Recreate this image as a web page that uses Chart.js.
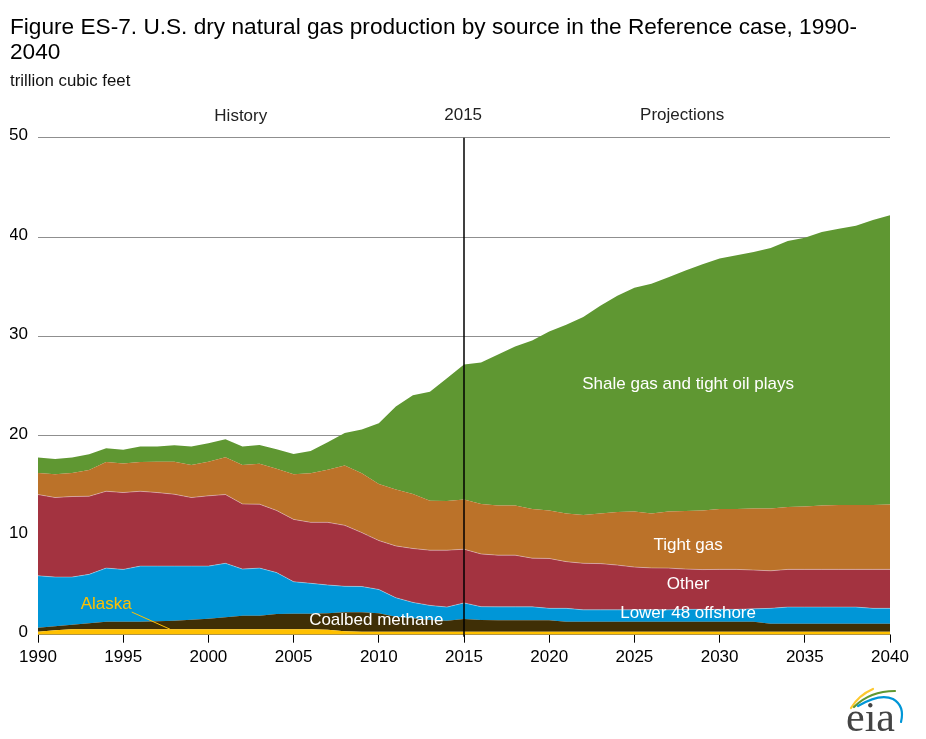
<!DOCTYPE html>
<html>
<head>
<meta charset="utf-8">
<title>Dry natural gas production</title>
<script src="https://cdn.jsdelivr.net/npm/chart.js@4/dist/chart.umd.min.js"></script>
<style>
    html, body { margin: 0; padding: 0; background: #fff; }
    canvas { display: block; }
</style>
</head>
<body>
<canvas id="chart" width="926" height="739"></canvas>
<script>
const years = [];
for (let y = 1990; y <= 2040; y++) years.push(y);

// trillion cubic feet, one value per year
const alaska = [0.3, 0.45, 0.55, 0.55, 0.55, 0.55, 0.55, 0.55, 0.55, 0.55,
    0.55, 0.55, 0.55, 0.55, 0.55, 0.55, 0.55, 0.5, 0.35, 0.3,
    0.3, 0.3, 0.3, 0.3, 0.3, 0.3, 0.3, 0.3, 0.3, 0.3,
    0.3, 0.3, 0.3, 0.3, 0.3, 0.3, 0.3, 0.3, 0.3, 0.3,
    0.3, 0.3, 0.3, 0.3, 0.3, 0.3, 0.3, 0.3, 0.3, 0.3, 0.3];
const coalbed = [0.4, 0.4, 0.45, 0.6, 0.75, 0.75, 0.75, 0.8, 0.85, 0.95,
    1.05, 1.2, 1.35, 1.35, 1.52, 1.55, 1.55, 1.65, 1.9, 1.95,
    1.85, 1.5, 1.35, 1.17, 1.1, 1.27, 1.17, 1.15, 1.15, 1.15,
    1.15, 1.0, 1.0, 1.0, 1.0, 1.0, 1.0, 1.0, 1.0, 1.0,
    1.0, 1.0, 1.0, 0.8, 0.8, 0.8, 0.8, 0.8, 0.8, 0.8, 0.8];
const offshore = [5.23, 4.95, 4.8, 4.92, 5.4, 5.27, 5.6, 5.55, 5.5, 5.4,
    5.3, 5.43, 4.7, 4.8, 4.18, 3.23, 3.07, 2.85, 2.62, 2.6,
    2.4, 1.92, 1.6, 1.48, 1.38, 1.63, 1.35, 1.35, 1.35, 1.35,
    1.2, 1.35, 1.2, 1.2, 1.2, 1.2, 1.2, 1.2, 1.25, 1.25,
    1.25, 1.25, 1.3, 1.55, 1.68, 1.68, 1.68, 1.68, 1.68, 1.55, 1.55];
const other = [8.17, 8.0, 8.1, 7.86, 7.73, 7.73, 7.53, 7.4, 7.23, 6.9,
    7.07, 6.92, 6.55, 6.43, 6.25, 6.27, 6.13, 6.3, 6.13, 5.42,
    4.92, 5.21, 5.42, 5.55, 5.72, 5.4, 5.3, 5.2, 5.2, 4.9,
    5.02, 4.7, 4.68, 4.65, 4.5, 4.3, 4.22, 4.2, 4.05, 4.0,
    4.02, 4.02, 3.9, 3.78, 3.79, 3.79, 3.79, 3.79, 3.79, 3.92, 3.92];
const tightGas = [2.17, 2.33, 2.37, 2.64, 2.94, 2.93, 2.94, 3.1, 3.27, 3.27,
    3.43, 3.75, 3.92, 4.07, 4.2, 4.53, 4.93, 5.3, 6.03, 5.96,
    5.68, 5.67, 5.48, 4.97, 4.95, 5.0, 5.03, 5.0, 5.0, 4.95,
    4.83, 4.85, 4.87, 5.05, 5.35, 5.6, 5.48, 5.7, 5.85, 5.95,
    6.08, 6.08, 6.2, 6.27, 6.28, 6.33, 6.43, 6.48, 6.48, 6.48, 6.53];
const shale = [1.55, 1.55, 1.55, 1.58, 1.38, 1.37, 1.56, 1.53, 1.65, 1.86,
    1.85, 1.82, 1.86, 1.88, 1.95, 2.05, 2.25, 2.75, 3.27, 4.42,
    6.12, 8.35, 9.95, 10.96, 12.35, 13.58, 14.23, 15.2, 15.98, 16.95,
    18.0, 18.97, 19.9, 20.9, 21.75, 22.5, 23.1, 23.57, 24.18, 24.77,
    25.2, 25.53, 25.8, 26.2, 26.75, 27.03, 27.5, 27.78, 28.08, 28.68, 29.1];

const textFont = '"Liberation Sans", Arial, sans-serif';

function makeSeries(label, values, color, fill, edge) {
    return {
        label: label,
        data: values.map((v, i) => ({x: years[i], y: v})),
        backgroundColor: color,
        borderColor: edge || color,
        borderWidth: edge ? 1 : 0,
        pointRadius: 0,
        tension: 0,
        fill: fill
    };
}

// labels on the chart, placed in axis units
const chartLabels = [
    {text: 'History', x: 2001.9, y: 52.1, color: '#222'},
    {text: '2015', x: 2014.95, y: 52.2, color: '#222'},
    {text: 'Projections', x: 2027.8, y: 52.2, color: '#222'},
    {text: 'Shale gas and tight oil plays', x: 2028.15, y: 25.2, color: '#fff'},
    {text: 'Tight gas', x: 2028.15, y: 9.0, color: '#fff'},
    {text: 'Other', x: 2028.15, y: 5.1, color: '#fff'},
    {text: 'Lower 48 offshore', x: 2028.15, y: 2.15, color: '#fff'},
    {text: 'Coalbed methane', x: 2009.85, y: 1.45, color: '#fff'},
    {text: 'Alaska', x: 1994, y: 3.05, color: '#ffc000'}
];

const annotations = {
    id: 'annotations',
    afterDraw(chart) {
        const ctx = chart.ctx;
        const xs = chart.scales.x;
        const ys = chart.scales.y;
        ctx.save();

        // 2015 divider
        ctx.strokeStyle = '#000';
        ctx.lineWidth = 1.5;
        ctx.beginPath();
        ctx.moveTo(xs.getPixelForValue(2015), ys.getPixelForValue(50));
        ctx.lineTo(xs.getPixelForValue(2015), ys.getPixelForValue(0) + 2);
        ctx.stroke();

        // Alaska leader
        ctx.strokeStyle = '#ffc000';
        ctx.lineWidth = 1;
        ctx.beginPath();
        ctx.moveTo(xs.getPixelForValue(1995.5), ys.getPixelForValue(2.28));
        ctx.lineTo(xs.getPixelForValue(1997.75), ys.getPixelForValue(0.55));
        ctx.stroke();

        ctx.font = '17px ' + textFont;
        ctx.textAlign = 'center';
        ctx.textBaseline = 'middle';
        chartLabels.forEach(item => {
            ctx.fillStyle = item.color;
            ctx.fillText(item.text, xs.getPixelForValue(item.x), ys.getPixelForValue(item.y));
        });

        drawLogo(ctx);
        ctx.restore();
    }
};

function drawLogo(ctx) {
    ctx.lineCap = 'round';
    ctx.lineWidth = 2.2;
    ctx.strokeStyle = '#fdc82f';
    ctx.beginPath();
    ctx.moveTo(851, 708);
    ctx.quadraticCurveTo(859, 695, 873, 689);
    ctx.stroke();
    ctx.strokeStyle = '#5f9732';
    ctx.beginPath();
    ctx.moveTo(854, 707);
    ctx.quadraticCurveTo(870, 691, 895, 691);
    ctx.stroke();
    ctx.strokeStyle = '#0096d7';
    ctx.beginPath();
    ctx.moveTo(858, 706);
    ctx.quadraticCurveTo(880, 693, 893, 699);
    ctx.quadraticCurveTo(905, 706, 901, 722);
    ctx.stroke();
    ctx.fillStyle = '#444';
    ctx.font = '42px "Liberation Serif", serif';
    ctx.textAlign = 'left';
    ctx.textBaseline = 'alphabetic';
    ctx.fillText('eia', 846, 731);
}

new Chart(document.getElementById('chart'), {
    type: 'line',
    data: {
        datasets: [
            makeSeries('Alaska', alaska, '#ffc000', 'origin'),
            makeSeries('Coalbed methane', coalbed, '#3f2f06', '-1'),
            makeSeries('Lower 48 offshore', offshore, '#0096d7', '-1', 'rgba(255,255,255,0.35)'),
            makeSeries('Other', other, '#a33340', '-1', 'rgba(255,255,255,0.35)'),
            makeSeries('Tight gas', tightGas, '#bb7229', '-1'),
            makeSeries('Shale gas and tight oil plays', shale, '#5f9732', '-1')
        ]
    },
    options: {
        responsive: false,
        animation: false,
        layout: {
            padding: {left: 10, right: 36, top: 15, bottom: 64.3}
        },
        plugins: {
            legend: {display: false},
            tooltip: {enabled: false},
            title: {
                display: true,
                align: 'start',
                text: ['Figure ES-7. U.S. dry natural gas production by source in the Reference case, 1990-', '2040'],
                color: '#000',
                font: {family: textFont, size: 22.65, weight: 'normal', lineHeight: 1.104},
                padding: {top: 0, bottom: 6}
            },
            subtitle: {
                display: true,
                align: 'start',
                text: 'trillion cubic feet',
                color: '#111',
                font: {family: textFont, size: 16.8, weight: 'normal'},
                padding: {top: 0, bottom: 46.5}
            }
        },
        scales: {
            x: {
                type: 'linear',
                min: 1990,
                max: 2040,
                afterFit(scale) { scale.height = 40; },
                border: {display: true, color: '#777', width: 1},
                grid: {drawOnChartArea: false, drawTicks: true, tickLength: 8, color: '#000'},
                ticks: {
                    stepSize: 5,
                    maxRotation: 0,
                    padding: 4.5,
                    color: '#000',
                    font: {family: textFont, size: 17},
                    callback: value => String(value)
                }
            },
            y: {
                stacked: true,
                min: 0,
                max: 50,
                afterFit(scale) { scale.width = 28; },
                border: {display: false},
                grid: {color: '#8f8f8f', drawTicks: false},
                ticks: {
                    stepSize: 10,
                    padding: 10,
                    labelOffset: -2,
                    color: '#000',
                    font: {family: textFont, size: 17}
                }
            }
        }
    },
    plugins: [annotations]
});
</script>
</body>
</html>
